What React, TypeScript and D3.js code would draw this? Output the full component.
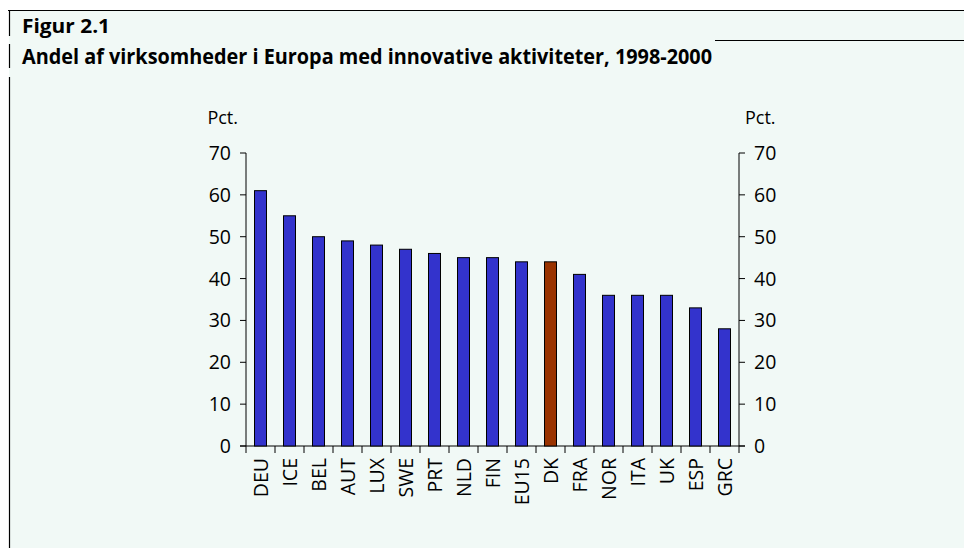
import React from "react";
import * as d3 from "d3";

const categories = ["DEU","ICE","BEL","AUT","LUX","SWE","PRT","NLD","FIN","EU15","DK","FRA","NOR","ITA","UK","ESP","GRC"];
const values = [61,55,50,49,48,47,46,45,45,44,44,41,36,36,36,33,28];
const highlight = "DK";
const yTicks = [0,10,20,30,40,50,60,70];
const figLabel = "Figur 2.1";
const title = "Andel af virksomheder i Europa med innovative aktiviteter, 1998-2000";
const unit = "Pct.";

export default function App() {
  const W = 964, H = 548;
  const x0 = 246, x1 = 739, yTop = 153, yBot = 446;
  const x = d3.scaleBand<string>().domain(categories).range([x0, x1]).paddingInner(0).paddingOuter(0);
  const y = d3.scaleLinear().domain([0, 70]).range([yBot, yTop]);
  const bw = 12;
  const font = "'Open Sans', sans-serif";
  return (
    <svg width={W} height={H} style={{ position: "absolute", left: 0, top: 0 }} fontFamily={font}>
      <rect x={0} y={0} width={W} height={H} fill="#ffffff" />
      <rect x={9} y={10} width={W - 9} height={H - 10} fill="#f1f9f6" />
      <line x1={8} x2={W} y1={10.5} y2={10.5} stroke="#000" strokeWidth={1.2} />
      <line x1={715} x2={W} y1={40.5} y2={40.5} stroke="#000" strokeWidth={1.2} />
      <line x1={9.5} x2={9.5} y1={10} y2={36} stroke="#000" strokeWidth={1.2} />
      <line x1={9.5} x2={9.5} y1={44} y2={68} stroke="#000" strokeWidth={1.2} />
      <line x1={9.5} x2={9.5} y1={77} y2={H} stroke="#000" strokeWidth={1.2} />
      <text x={22} y={33} fontSize={20} fontWeight={700} fill="#000" textLength={88} lengthAdjust="spacingAndGlyphs">{figLabel}</text>
      <text x={22} y={64} fontSize={20.5} fontWeight={700} fill="#000" textLength={690} lengthAdjust="spacingAndGlyphs">{title}</text>

      <text x={238} y={124} fontSize={18} textAnchor="end" fill="#000">{unit}</text>
      <text x={745} y={124} fontSize={18} textAnchor="start" fill="#000">{unit}</text>

      {/* axes */}
      <line x1={x0} x2={x0} y1={yTop} y2={yBot} stroke="#000" strokeWidth={1} />
      <line x1={x1} x2={x1} y1={yTop} y2={yBot} stroke="#000" strokeWidth={1} />
      <line x1={x0 - 6} x2={x1 + 6} y1={yBot} y2={yBot} stroke="#000" strokeWidth={1} />
      {yTicks.map((t) => (
        <g key={t}>
          <line x1={x0 - 6} x2={x0} y1={y(t)} y2={y(t)} stroke="#000" />
          <line x1={x1} x2={x1 + 6} y1={y(t)} y2={y(t)} stroke="#000" />
          <text x={231} y={y(t)} dy="0.36em" fontSize={19.5} textAnchor="end" fill="#000">{t}</text>
          <text x={754} y={y(t)} dy="0.36em" fontSize={19.5} textAnchor="start" fill="#000">{t}</text>
        </g>
      ))}
      {categories.map((c) => (
        <line key={"t" + c} x1={x(c)!} x2={x(c)!} y1={yBot} y2={yBot + 7} stroke="#000" />
      ))}
      <line x1={x1} x2={x1} y1={yBot} y2={yBot + 7} stroke="#000" />
      {categories.map((c, i) => {
        const cx = x(c)! + x.bandwidth() / 2;
        return (
          <g key={c}>
            <rect x={cx - bw / 2} y={y(values[i])} width={bw} height={yBot - y(values[i])}
              fill={c === highlight ? "#993300" : "#3333cc"} stroke="#000" strokeWidth={1} />
            <text transform={`translate(${cx + 7},${458}) rotate(-90)`} fontSize={19.5} textAnchor="end" fill="#000">{c}</text>
          </g>
        );
      })}
    </svg>
  );
}
